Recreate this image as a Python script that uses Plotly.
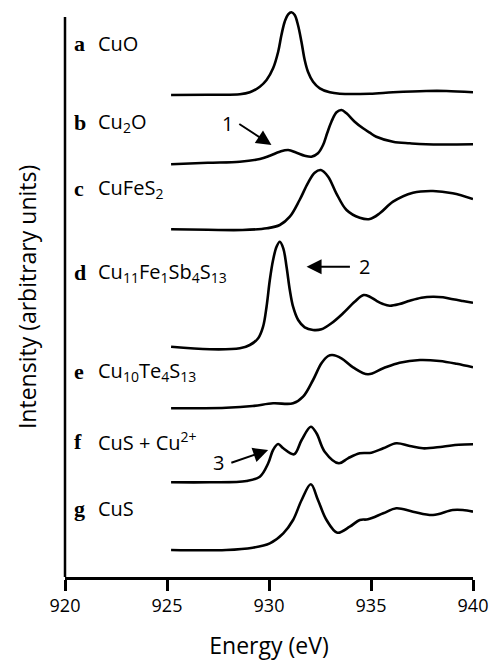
import plotly.graph_objects as go

# ---------------- data ----------------
labels = ["a", "b", "c", "d", "e", "f", "g"]
names = ["CuO", "Cu<sub>2</sub>O", "CuFeS<sub>2</sub>",
         "Cu<sub>11</sub>Fe<sub>1</sub>Sb<sub>4</sub>S<sub>13</sub>",
         "Cu<sub>10</sub>Te<sub>4</sub>S<sub>13</sub>",
         "CuS + Cu<sup>2+</sup>", "CuS"]
offsets = [4.82, 4.127, 3.477, 2.303, 1.687, 0.947, 0.27]

energy_a = [925.2, 927.0, 928.57, 929.06, 929.55, 929.88, 930.2, 930.45, 930.61, 930.77, 930.94, 931.1, 931.26, 931.42, 931.59, 931.75, 931.91, 932.16, 932.49, 932.98, 933.47, 934.94, 936.08, 937.7, 938.7, 940.0]
inten_a = [0, 0.003, 0.007, 0.027, 0.083, 0.15, 0.267, 0.433, 0.60, 0.733, 0.807, 0.827, 0.80, 0.70, 0.533, 0.35, 0.233, 0.133, 0.067, 0.027, 0.013, 0.013, 0.027, 0.04, 0.04, 0.027]

energy_b = [925.2, 927.0, 928.57, 929.55, 930.04, 930.53, 930.94, 931.35, 931.75, 932.08, 932.4, 932.65, 932.85, 933.06, 933.31, 933.55, 933.8, 934.2, 934.61, 934.94, 935.26, 936.08, 936.9, 937.7, 940.0]
inten_b = [0, 0.015, 0.026, 0.053, 0.086, 0.126, 0.143, 0.116, 0.086, 0.076, 0.11, 0.193, 0.31, 0.426, 0.52, 0.543, 0.51, 0.426, 0.36, 0.316, 0.276, 0.226, 0.21, 0.20, 0.20]

energy_c = [925.2, 927.0, 928.7, 929.9, 930.53, 931.02, 931.5, 931.9, 932.24, 932.54, 932.9, 933.3, 933.8, 934.45, 934.94, 935.43, 936.08, 937.06, 938.04, 939.0, 940.0]
inten_c = [0, -0.005, -0.007, 0.01, 0.043, 0.126, 0.293, 0.46, 0.566, 0.593, 0.526, 0.36, 0.193, 0.116, 0.103, 0.16, 0.276, 0.366, 0.383, 0.36, 0.303]

energy_d = [925.2, 927.1, 928.57, 929.06, 929.47, 929.71, 929.88, 930.04, 930.2, 930.37, 930.53, 930.7, 930.86, 931.02, 931.18, 931.43, 931.75, 932.16, 932.57, 933.06, 933.63, 934.2, 934.64, 934.94, 935.26, 935.59, 935.92, 936.4, 936.9, 937.47, 938.04, 938.53, 939.02, 939.5, 940.0]
inten_d = [0, -0.026, -0.016, 0.017, 0.084, 0.20, 0.40, 0.667, 0.867, 1.0, 1.05, 0.984, 0.80, 0.567, 0.40, 0.267, 0.194, 0.167, 0.174, 0.234, 0.334, 0.45, 0.517, 0.50, 0.46, 0.427, 0.41, 0.427, 0.46, 0.49, 0.50, 0.494, 0.474, 0.457, 0.44]

energy_e = [925.2, 927.9, 929.2, 930.2, 931.18, 931.67, 932.16, 932.57, 932.9, 933.1, 933.55, 934.12, 934.85, 935.6, 936.4, 937.4, 938.36, 939.2, 940.0]
inten_e = [0, 0.006, 0.023, 0.05, 0.05, 0.116, 0.283, 0.45, 0.523, 0.533, 0.50, 0.41, 0.34, 0.40, 0.456, 0.483, 0.473, 0.445, 0.41]

energy_f = [925.2, 927.1, 928.9, 929.55, 929.96, 930.2, 930.45, 930.7, 931.23, 931.6, 932.05, 932.33, 932.73, 933.42, 933.87, 934.45, 935.02, 935.6, 936.24, 936.9, 937.55, 938.5, 939.3, 940.0]
inten_f = [0, 0, 0.013, 0.056, 0.19, 0.323, 0.383, 0.34, 0.28, 0.423, 0.556, 0.49, 0.306, 0.19, 0.24, 0.29, 0.296, 0.34, 0.39, 0.363, 0.34, 0.356, 0.375, 0.38]

energy_g = [925.2, 927.9, 929.2, 930.04, 930.7, 931.18, 931.6, 932.05, 932.4, 932.82, 933.35, 933.96, 934.45, 934.85, 935.6, 936.24, 937.06, 938.04, 939.0, 939.5, 940.0]
inten_g = [0, 0, 0.023, 0.067, 0.167, 0.30, 0.50, 0.657, 0.50, 0.30, 0.173, 0.233, 0.30, 0.307, 0.367, 0.417, 0.383, 0.35, 0.40, 0.40, 0.383]

x_ticks = [920, 925, 930, 935, 940]
energies = [energy_a, energy_b, energy_c, energy_d, energy_e, energy_f, energy_g]
intensities = [inten_a, inten_b, inten_c, inten_d, inten_e, inten_f, inten_g]

Y_MAX = 5.7      # axis range top (leaves room for the CuO peak)
Y_LINE = 5.6     # where the drawn y-axis line stops

FONT = "Open Sans"
fig = go.Figure()
for e, i, off in zip(energies, intensities, offsets):
    fig.add_trace(go.Scatter(
        x=e, y=[v + off for v in i], mode="lines",
        line=dict(color="black", width=2.6, shape="spline", smoothing=1.0),
        showlegend=False, hoverinfo="skip"))

# visible y-axis line (stops below the top of the tallest peak)
fig.add_shape(type="line", xref="paper", yref="paper", x0=0, x1=0, y0=0, y1=Y_LINE / Y_MAX,
              line=dict(color="black", width=2.5))

# label positions (y in data units)
label_y = [5.34, 4.55, 3.89, 3.05, 2.053, 1.353, 0.687]
for lab, nm, ly in zip(labels, names, label_y):
    fig.add_annotation(x=920.35, y=ly, xref="x", yref="y", text="<b>%s</b>" % lab,
                       showarrow=False, xanchor="left", yanchor="middle",
                       font=dict(family="Liberation Serif", size=22, color="black"))
    fig.add_annotation(x=921.5, y=ly, xref="x", yref="y", text=nm,
                       showarrow=False, xanchor="left", yanchor="middle",
                       font=dict(family=FONT, size=20, color="black"))

# arrows with numbers
arrows = [
    dict(tx=927.98, ty=4.54, n="1", ax=928.47, ay=4.54, hx=930.12, hy=4.32),
    dict(tx=934.69, ty=3.103, n="2", ax=934.04, ay=3.103, hx=931.84, hy=3.103),
    dict(tx=927.51, ty=1.143, n="3", ax=928.08, ay=1.137, hx=929.96, hy=1.27),
]
for a in arrows:
    fig.add_annotation(x=a["hx"], y=a["hy"], ax=a["ax"], ay=a["ay"], xref="x", yref="y",
                       axref="x", ayref="y", text="", showarrow=True,
                       arrowhead=2, arrowsize=1.5, arrowwidth=2, arrowcolor="black")
    fig.add_annotation(x=a["tx"], y=a["ty"], xref="x", yref="y", text=a["n"],
                       showarrow=False, xanchor="center", yanchor="middle",
                       font=dict(family=FONT, size=20, color="black"))

# y-axis title
fig.add_annotation(x=-0.093, y=0.5 * Y_LINE / Y_MAX, xref="paper", yref="paper",
                   text="Intensity (arbitrary units)",
                   textangle=-90, showarrow=False, xanchor="center", yanchor="middle",
                   font=dict(family=FONT, size=23, color="black"))

fig.update_layout(
    width=493, height=661,
    margin=dict(l=65, r=20, t=7, b=84, autoexpand=False),
    paper_bgcolor="white", plot_bgcolor="white",
    font=dict(family=FONT, color="black"),
    xaxis=dict(range=[920, 940], tickvals=x_ticks, ticktext=[str(t) for t in x_ticks],
               automargin=False,
               showline=True, linecolor="black", linewidth=2.5,
               ticks="outside", ticklen=11, tickwidth=2.5, tickcolor="black",
               tickfont=dict(family=FONT, size=18, color="black"),
               showgrid=False, zeroline=False,
               title=dict(text="Energy (eV)", font=dict(family=FONT, size=23, color="black"), standoff=24)),
    yaxis=dict(range=[0, Y_MAX], showline=False, automargin=False,
               showticklabels=False, ticks="", showgrid=False, zeroline=False),
)

fig.write_html("out.html", config={"displayModeBar": False},
               post_script="document.body.style.margin='0';document.body.style.overflow='hidden';")
